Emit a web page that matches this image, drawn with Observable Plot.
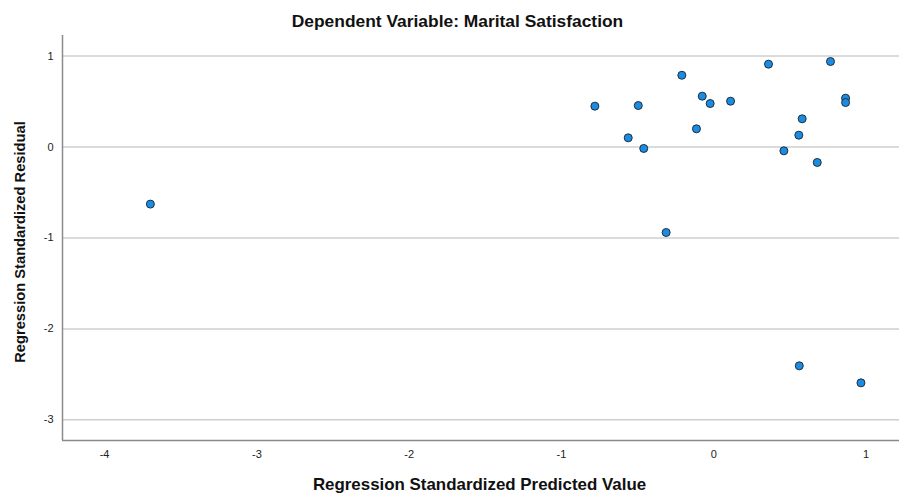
<!DOCTYPE html>
<html>
<head>
<meta charset="utf-8">
<script src="https://cdn.jsdelivr.net/npm/d3@7"></script>
<script src="https://cdn.jsdelivr.net/npm/@observablehq/plot@0.6"></script>
<style>
  html, body { margin: 0; padding: 0; background: #fff; }
  #chart svg { display: block; font-family: "Liberation Sans", Arial, sans-serif; }
</style>
</head>
<body>
<div id="chart"></div>
<script>
// Scatterplot of standardized residuals against standardized predicted values
const titleText = "Dependent Variable: Marital Satisfaction";
const xLabel = "Regression Standardized Predicted Value";
const yLabel = "Regression Standardized Residual";

const predicted = [-3.699, -0.781, -0.496, -0.562, -0.460, -0.210, -0.076, -0.024, -0.114, 0.110,
                   -0.313, 0.359, 0.766, 0.865, 0.865, 0.580, 0.558, 0.460, 0.679, 0.561, 0.966];
const residual  = [-0.628, 0.449, 0.456, 0.101, -0.016, 0.789, 0.559, 0.478, 0.200, 0.504,
                   -0.940, 0.911, 0.940, 0.537, 0.489, 0.310, 0.130, -0.042, -0.170, -2.406, -2.593];

const xTicks = [-4, -3, -2, -1, 0, 1];
const yTicks = [-3, -2, -1, 0, 1];
const xDomain = [-4.276, 1.219];
const yDomain = [-3.227, 1.226];

const points = predicted.map((p, i) => ({predicted: p, residual: residual[i]}));
const plainNumber = d => String(d);

const chart = Plot.plot({
  width: 899,
  height: 493,
  marginLeft: 62,
  marginRight: 0,
  marginTop: 35,
  marginBottom: 53,
  style: {fontFamily: "'Liberation Sans', Arial, sans-serif", background: "#fff"},
  x: {domain: xDomain},
  y: {domain: yDomain},
  marks: [
    Plot.gridY(yTicks, {stroke: "#cfcfcf", strokeOpacity: 1, strokeWidth: 1.5}),
    Plot.ruleX([xDomain[0]], {stroke: "#8a8a8a", strokeWidth: 1.5}),
    Plot.ruleY([yDomain[0]], {stroke: "#8a8a8a", strokeWidth: 1.5}),
    Plot.axisX(xTicks, {tickSize: 0, tickPadding: 10, fontSize: 11, fill: "#222", label: null, tickFormat: plainNumber}),
    Plot.axisY(yTicks, {tickSize: 0, tickPadding: 9, fontSize: 11, fill: "#222", label: null, tickFormat: plainNumber}),
    Plot.dot(points, {x: "predicted", y: "residual", r: 4, fill: "#1a8de3", stroke: "#1f2d3d", strokeWidth: 1}),
    Plot.text([titleText], {frameAnchor: "top", textAnchor: "middle", lineAnchor: "middle", dx: -23.5, dy: -14, fontSize: 17.4, fontWeight: "bold", fill: "#111"}),
    Plot.text([xLabel], {frameAnchor: "bottom", textAnchor: "middle", lineAnchor: "middle", dx: -1.5, dy: 44, fontSize: 16.9, fontWeight: "bold", fill: "#111"}),
    Plot.text([yLabel], {frameAnchor: "left", textAnchor: "middle", lineAnchor: "middle", rotate: -90, dx: -42, dy: 4, fontSize: 14.7, fontWeight: "bold", fill: "#111"})
  ]
});

document.getElementById("chart").append(chart);
</script>
</body>
</html>
